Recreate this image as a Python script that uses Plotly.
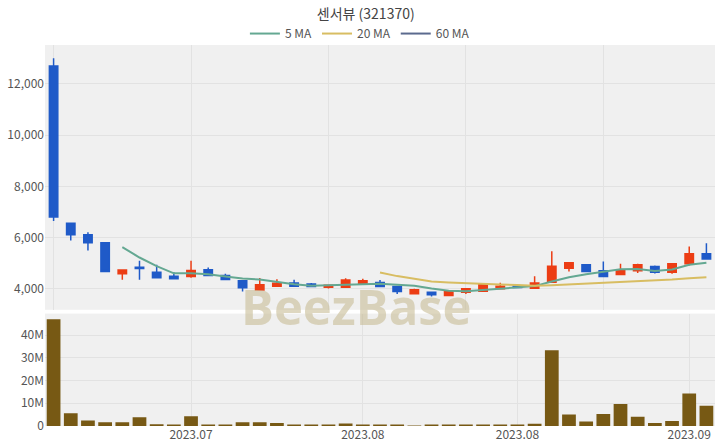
import plotly.graph_objects as go
import pandas as pd

dates = ["2023-06-20", "2023-06-21", "2023-06-22", "2023-06-23", "2023-06-26", "2023-06-27",
         "2023-06-28", "2023-06-29", "2023-06-30", "2023-07-03", "2023-07-04", "2023-07-05",
         "2023-07-06", "2023-07-07", "2023-07-10", "2023-07-11", "2023-07-12", "2023-07-13",
         "2023-07-14", "2023-07-17", "2023-07-18", "2023-07-19", "2023-07-20", "2023-07-21",
         "2023-07-24", "2023-07-25", "2023-07-26", "2023-07-27", "2023-07-28", "2023-07-31",
         "2023-08-01", "2023-08-02", "2023-08-03", "2023-08-04", "2023-08-07", "2023-08-08",
         "2023-08-09", "2023-08-10", "2023-08-11"]

opens = [12700, 6560, 6110, 5800, 4590, 4840, 4650, 4490, 4480, 4750, 4520, 4320, 3960,
         4100, 4230, 4190, 4060, 4060, 4200, 4250, 4090, 3805, 3870, 3740, 3870, 3910,
         4000, 4100, 4020, 4260, 4800, 4940, 4710, 4560, 4710, 4870, 4650, 4980, 5370]
highs = [13000, 6560, 6210, 5800, 4740, 5100, 4940, 4650, 5100, 4830, 4590, 4320, 4420,
         4380, 4360, 4230, 4140, 4410, 4390, 4350, 4090, 4000, 3900, 3910, 4010, 4180,
         4240, 4110, 4490, 5470, 5020, 4940, 5070, 4980, 4980, 4910, 5000, 5650, 5780]
lows = [6650, 5890, 5500, 4670, 4360, 4360, 4430, 4380, 4430, 4520, 4360, 3900, 3960,
        4100, 4100, 4080, 4010, 4050, 4190, 4080, 3800, 3800, 3700, 3730, 3800, 3880,
        3990, 4040, 4010, 4250, 4680, 4670, 4470, 4550, 4620, 4600, 4590, 4910, 5170]
closes = [6800, 6110, 5800, 4680, 4740, 4790, 4430, 4390, 4715, 4520, 4370, 4040, 4160,
          4220, 4100, 4090, 4140, 4350, 4320, 4090, 3900, 3970, 3770, 3910, 4000, 4160,
          4100, 4050, 4230, 4880, 5020, 4680, 4480, 4750, 4940, 4650, 4980, 5370, 5170]
volumes = [47000000, 5600000, 2400000, 1700000, 1700000, 3800000, 800000, 600000, 4300000,
           500000, 400000, 1600000, 1600000, 1300000, 700000, 200000, 200000, 1100000,
           600000, 500000, 400000, 100000, 700000, 300000, 300000, 300000, 300000, 200000,
           1000000, 33400000, 5100000, 2000000, 5300000, 9700000, 4100000, 1300000,
           2200000, 14300000, 8900000]

price_tick_idx = [0, 8, 16, 24, 32]
vol_tick_idx = [8, 18, 27, 37]
vol_tick_text = ["2023.07", "2023.08", "2023.08", "2023.09"]
ma_periods = [5, 20, 60]
ma_colors = ["#64a892", "#d8bd62", "#5b6a8e"]

FONT = "Noto Sans CJK KR, Open Sans, sans-serif"
UP = "#ec3d14"
DOWN = "#1f5ac8"

close_s = pd.Series(closes, dtype=float)

fig = go.Figure()
fig.add_trace(go.Candlestick(
    x=dates, open=opens, high=highs, low=lows, close=closes,
    increasing=dict(line=dict(color=UP, width=1.5), fillcolor=UP),
    decreasing=dict(line=dict(color=DOWN, width=1.5), fillcolor=DOWN),
    showlegend=False, xaxis="x", yaxis="y"))

for p, c in zip(ma_periods, ma_colors):
    ma = close_s.rolling(p).mean()
    yv = [None if pd.isna(v) else v for v in ma]
    fig.add_trace(go.Scatter(x=dates, y=yv, mode="lines", name=f"{p} MA",
                             line=dict(color=c, width=2), xaxis="x", yaxis="y"))

fig.add_trace(go.Bar(x=dates, y=volumes, marker=dict(color="#775914", line=dict(width=0)),
                     showlegend=False, xaxis="x2", yaxis="y2"))

grid = "#e2e2e2"
fig.update_layout(
    width=720, height=448,
    margin=dict(l=45, r=5, t=45, b=22),
    paper_bgcolor="white", plot_bgcolor="#f0f0f0",
    font=dict(family=FONT, size=12, color="#555"),
    title=dict(text="센서뷰 (321370)", x=0.508, xanchor="center", y=0.968, yanchor="middle",
               font=dict(family=FONT, size=14, color="#444")),
    legend=dict(orientation="h", x=0.47, xanchor="center",
                y=0.992, yanchor="bottom",
                font=dict(size=12, color="#555"), bgcolor="rgba(0,0,0,0)"),
    bargap=0.2,
    xaxis=dict(type="category", domain=[0, 1], anchor="y", range=[-0.5, len(dates) - 0.5],
               rangeslider=dict(visible=False), showticklabels=False,
               tickmode="array", tickvals=[dates[i] for i in price_tick_idx],
               showgrid=True, gridcolor=grid, zeroline=False),
    yaxis=dict(domain=[0.305, 1], anchor="x", showgrid=True, gridcolor=grid,
               tickformat=",d", dtick=2000, zeroline=False,
               tickfont=dict(size=12, color="#555")),
    xaxis2=dict(type="category", domain=[0, 1], anchor="y2", range=[-0.5, len(dates) - 0.5],
                tickmode="array", tickvals=[dates[i] for i in vol_tick_idx],
                ticktext=vol_tick_text, showgrid=True, gridcolor=grid,
                tickfont=dict(size=12, color="#555"), zeroline=False),
    yaxis2=dict(domain=[0, 0.295], anchor="x2", showgrid=True, gridcolor=grid,
                tickvals=[0, 10000000, 20000000, 30000000, 40000000],
                ticktext=["0", "10M", "20M", "30M", "40M"], zeroline=False,
                tickfont=dict(size=12, color="#555")),
)

fig.add_annotation(text="<b>BeezBase</b>", xref="paper", yref="paper", x=0.465, y=0.315,
                   xanchor="center", yanchor="middle", showarrow=False,
                   font=dict(family="Open Sans, sans-serif", size=49,
                             color="rgba(200,188,150,0.6)"))

fig.write_html("out.html", config={"displayModeBar": False},
               post_script="document.body.style.margin='0';document.body.style.overflow='hidden';")
